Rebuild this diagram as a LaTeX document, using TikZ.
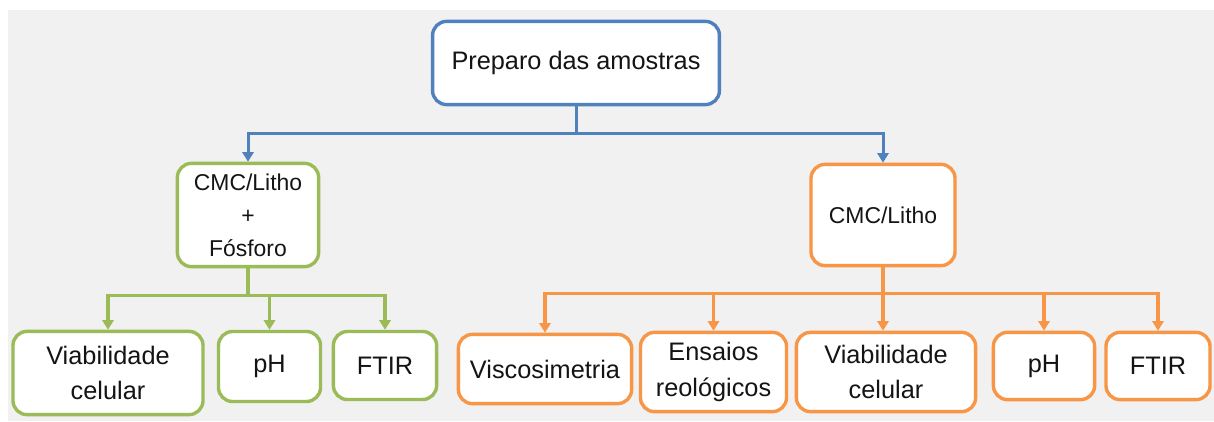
\documentclass[tikz,border=0pt]{standalone}
\usepackage{fontspec}
\setmainfont{Liberation Sans}
\usetikzlibrary{positioning}
\usetikzlibrary{arrows.meta}
\definecolor{bgray}{HTML}{F1F1F1}
\definecolor{cblue}{HTML}{4F81BD}
\definecolor{cgreen}{HTML}{9BBB59}
\definecolor{corange}{HTML}{F79646}
\definecolor{ctext}{HTML}{141414}
\tikzset{
    box/.style = {rectangle,rounded corners=0.35cm,fill=white,line width=0.085cm,text=ctext,align=center,inner sep=2pt,font=\fontsize{18}{25}\selectfont},
    midbox/.style = {box,font=\fontsize{16.3}{23.5}\selectfont},
    bluebox/.style = {box,draw=cblue},
    greenbox/.style = {box,draw=cgreen},
    orangebox/.style = {box,draw=corange},
    link/.style = {line width=0.085cm,-{Triangle[width=0.28cm,length=0.24cm]}},
    bluelink/.style = {link,draw=cblue,line width=0.075cm},
    greenlink/.style = {link,draw=cgreen},
    orangelink/.style = {link,draw=corange}}
\begin{document}
\begin{tikzpicture}[x=0.025cm,y=-0.025cm]
        \useasboundingbox (0,0) rectangle (1214,421);
        \fill[bgray] (8,10) rectangle (1214,421);
        \path (576,63) node[bluebox,minimum width=7.17cm,minimum height=2.08cm] (prep) {Preparo das amostras}
        (248,215) node[greenbox,midbox,minimum width=3.53cm,minimum height=2.58cm] (litfos) {CMC/Litho\\+\\Fósforo}
        (883,215) node[orangebox,midbox,minimum width=3.6cm,minimum height=2.53cm] (lit) {CMC/Litho};
        % green branch
        \path (108,373) node[greenbox,minimum width=4.75cm,minimum height=2.08cm] (gviab) {Viabilidade\\celular}
        (269.5,366.5) node[greenbox,minimum width=2.55cm,minimum height=1.75cm] (gph) {pH}
        (385,365.5) node[greenbox,minimum width=2.58cm,minimum height=1.7cm] (gftir) {FTIR};
        % orange branch
        \path (545,369) node[orangebox,minimum width=4.33cm,minimum height=1.73cm] (ovisc) {Viscosimetria}
        (713.5,372) node[orangebox,minimum width=3.65cm,minimum height=1.98cm] (oens) {Ensaios\\reológicos}
        (886,372) node[orangebox,minimum width=4.48cm,minimum height=1.98cm] (oviab) {Viabilidade\\celular}
        (1044,366) node[orangebox,minimum width=2.53cm,minimum height=1.68cm] (oph) {pH}
        (1158,366) node[orangebox,minimum width=2.6cm,minimum height=1.68cm] (oftir) {FTIR};
        \draw[bluelink] (prep.south) -- ++(0,27) -| (litfos.north);
        \draw[bluelink] (prep.south) -- ++(0,27) -| (lit.north);
        \draw[greenlink] (litfos.south) -- ++(0,27) -| (gviab.north);
        \draw[greenlink] (litfos.south) -- ++(0,27) -| (gph.north);
        \draw[greenlink] (litfos.south) -- ++(0,27) -| (gftir.north);
        \draw[orangelink] (lit.south) -- ++(0,26) -| (ovisc.north);
        \draw[orangelink] (lit.south) -- ++(0,26) -| (oens.north);
        \draw[orangelink] (lit.south) -- (lit.south |- oviab.north);
        \draw[orangelink] (lit.south) -- ++(0,26) -| (oph.north);
        \draw[orangelink] (lit.south) -- ++(0,26) -| (oftir.north);
    \end{tikzpicture}
\end{document}
